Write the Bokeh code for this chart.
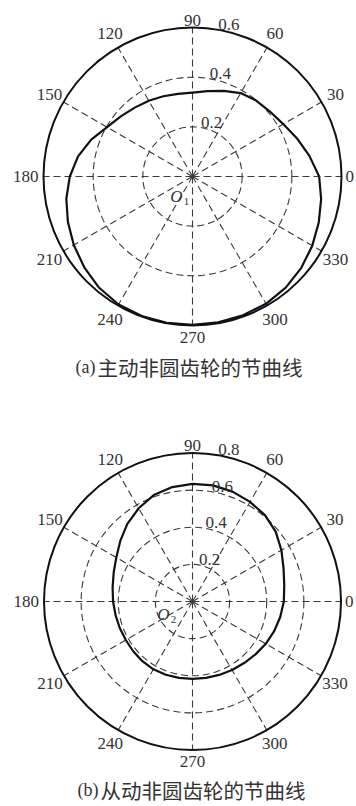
import numpy as np
from bokeh.plotting import figure
from bokeh.layouts import column
from bokeh.models import Range1d
from bokeh.core.properties import value
from bokeh.embed import file_html
from bokeh.resources import INLINE

# ---------------- data ----------------
theta_deg = [0, 10, 20, 30, 40, 50, 60, 70, 80, 90, 100, 110,
             120, 130, 140, 150, 160, 170, 180, 190, 200, 210, 220, 230,
             240, 250, 260, 270, 280, 290, 300, 310, 320, 330, 340, 350]

# (a) driving gear pitch curve radius
r_driving = [0.510, 0.478, 0.448, 0.422, 0.407, 0.399, 0.388, 0.367, 0.349, 0.338, 0.338, 0.344,
             0.352, 0.362, 0.377, 0.397, 0.434, 0.468, 0.494, 0.516, 0.534, 0.552, 0.569, 0.585,
             0.595, 0.598, 0.598, 0.597, 0.596, 0.595, 0.592, 0.584, 0.572, 0.557, 0.541, 0.526]

# (b) driven gear pitch curve radius
r_driven = [0.492, 0.502, 0.522, 0.553, 0.585, 0.607, 0.620, 0.630, 0.635, 0.634, 0.626, 0.610,
            0.580, 0.546, 0.508, 0.474, 0.452, 0.437, 0.428, 0.421, 0.417, 0.415, 0.417, 0.420,
            0.422, 0.420, 0.418, 0.417, 0.418, 0.421, 0.426, 0.433, 0.443, 0.456, 0.468, 0.480]

angle_ticks = [0, 30, 60, 90, 120, 150, 180, 210, 240, 270, 300, 330]
angle_labels = ["0", "30", "60", "90", "120", "150", "180", "210", "240", "270", "300", "330"]

rings_driving = [0.2, 0.4]
rmax_driving = 0.6
ring_labels_driving = ["0.2", "0.4", "0.6"]

rings_driven = [0.2, 0.4, 0.6]
rmax_driven = 0.8
ring_labels_driven = ["0.2", "0.4", "0.6", "0.8"]

caption_tag_a = "(a)"
caption_a = "主动非圆齿轮的节曲线"
caption_tag_b = "(b)"
caption_b = "从动非圆齿轮的节曲线"

# ---------------- styling ----------------
W, H = 356, 403
NUM_FONT = "Liberation Serif"
CAP_FONT = "Noto Sans CJK SC"
INK = "#111111"
DASH_COLOR = "#3a3a3a"
TXT = "#333333"


def panel(theta, r, rings, rmax, ring_labels, cx, cy, R_px, tag, caption,
          cap_dx, cap_dy, o_dx, o_dy, sub):
    s = R_px / rmax  # pixels per unit
    p = figure(width=W, height=H, output_backend="svg", toolbar_location=None,
               x_range=Range1d(-cx / s, (W - cx) / s),
               y_range=Range1d(-(H - cy) / s, cy / s),
               x_axis_type=None, y_axis_type=None,
               min_border=0, outline_line_color=None,
               background_fill_color="white", border_fill_color="white")
    p.min_border_left = p.min_border_right = p.min_border_top = p.min_border_bottom = 0

    # dashed rings
    p.circle(x=[0] * len(rings), y=[0] * len(rings), radius=rings,
             fill_color=None, line_color=DASH_COLOR, line_width=1.1, line_dash="7 4")
    # dashed spokes
    a = np.radians(angle_ticks)
    p.segment(x0=[0] * len(a), y0=[0] * len(a), x1=rmax * np.cos(a), y1=rmax * np.sin(a),
              line_color=DASH_COLOR, line_width=1.1, line_dash="7 4")
    # outer circle
    p.circle(x=[0], y=[0], radius=[rmax], fill_color=None, line_color=INK, line_width=2)

    # pitch curve
    t = np.radians(theta + [theta[0]])
    rr = np.array(r + [r[0]])
    p.line(rr * np.cos(t), rr * np.sin(t), line_color=INK, line_width=2.2,
           line_join="round")

    # angle labels
    groups = {}
    for ang, lab in zip(angle_ticks, angle_labels):
        if ang == 0:
            off, al, bl = 4, "left", "middle"
        elif ang == 180:
            off, al, bl = 5, "right", "middle"
        elif ang == 90:
            off, al, bl = 2, "center", "bottom"
        elif ang == 270:
            off, al, bl = 6, "center", "top"
        else:
            off, al, bl = 16, "center", "middle"
        rad = rmax + off / s
        g = groups.setdefault((al, bl), ([], [], []))
        g[0].append(rad * np.cos(np.radians(ang)))
        g[1].append(rad * np.sin(np.radians(ang)))
        g[2].append(lab)
    for (al, bl), (xs, ys, ts) in groups.items():
        p.text(x=xs, y=ys, text=ts, text_align=al, text_baseline=bl,
               text_font=value(NUM_FONT), text_font_size="17px", text_color=TXT)

    # ring labels at 80 degrees
    ring_vals = rings + [rmax]
    la = np.radians(80)
    p.text(x=[v * np.cos(la) for v in ring_vals], y=[v * np.sin(la) for v in ring_vals],
           text=ring_labels, text_align="left", text_baseline="bottom",
           text_font=value(NUM_FONT), text_font_size="17px", text_color=TXT)

    # centre label O with subscript
    p.text(x=[o_dx / s], y=[o_dy / s], text=["O"], text_align="center", text_baseline="middle",
           text_font=value(NUM_FONT), text_font_style="italic", text_font_size="17px", text_color=TXT)
    p.text(x=[(o_dx + 10) / s], y=[(o_dy - 5) / s], text=[sub], text_align="center",
           text_baseline="middle", text_font=value(NUM_FONT), text_font_size="11px", text_color=TXT)

    # caption: serif tag + CJK text
    p.text(x=[(cap_dx - 1) / s], y=[cap_dy / s], text=[tag], text_align="right",
           text_baseline="middle", text_font=value(NUM_FONT), text_font_size="18px",
           text_color=TXT)
    p.text(x=[(cap_dx + 1) / s], y=[cap_dy / s], text=[caption], text_align="left",
           text_baseline="middle", text_font=value(CAP_FONT), text_font_size="20.5px",
           text_color=TXT)
    return p


pa = panel(theta_deg, r_driving, rings_driving, rmax_driving, ring_labels_driving,
           cx=192, cy=176, R_px=149, tag=caption_tag_a, caption=caption_a,
           cap_dx=-96, cap_dy=-190.5, o_dx=-16, o_dy=-20, sub="1")
pb = panel(theta_deg, r_driven, rings_driven, rmax_driven, ring_labels_driven,
           cx=192, cy=198, R_px=148.5, tag=caption_tag_b, caption=caption_b,
           cap_dx=-93, cap_dy=-188, o_dx=-29, o_dy=-13, sub="2")

layout = column(pa, pb, spacing=0)
open("out.html", "w").write(file_html(layout, INLINE))
